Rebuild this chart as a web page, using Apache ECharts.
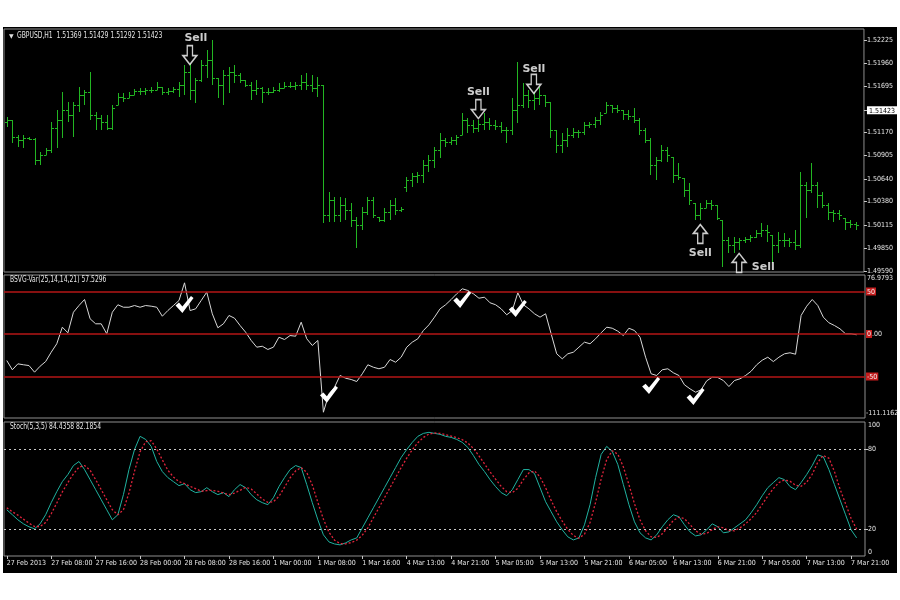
<!DOCTYPE html>
<html><head><meta charset="utf-8">
<script src="https://cdn.jsdelivr.net/npm/echarts@6/dist/echarts.min.js"></script>
<style>html,body{margin:0;padding:0;background:#fff;}#c{width:900px;height:600px;}</style>
</head><body><div id="c"></div>
<script>
const FONT = "'Liberation Sans Narrow','DejaVu Sans Condensed','Liberation Sans',sans-serif";

// hourly categories (gap between 1 Mar 23:00 and 4 Mar 13:00)
const dayBlocks = [['27 Feb',0,24],['28 Feb',0,24],['1 Mar',0,24],['4 Mar',13,24],['5 Mar',0,24],['6 Mar',0,24],['7 Mar',0,24]];
const categories = [];
dayBlocks.forEach(function(b){ for (let h=b[1]; h<b[2]; h++) categories.push(b[0]+' '+String(h).padStart(2,'0')+':00'); });

const priceOpen = [1.51289,1.51312,1.51117,1.51083,1.51106,1.51095,1.50855,1.50912,1.50969,1.51220,
1.51312,1.51426,1.51369,1.51483,1.51597,1.51631,1.51369,1.51334,1.51289,1.51220,
1.51483,1.51574,1.51563,1.51597,1.51643,1.51643,1.51654,1.51654,1.51688,1.51631,
1.51643,1.51666,1.51711,1.51860,1.51654,1.51768,1.51940,1.51997,1.51791,1.51711,
1.51825,1.51860,1.51825,1.51768,1.51711,1.51654,1.51677,1.51631,1.51631,1.51654,
1.51677,1.51700,1.51700,1.51711,1.51746,1.51711,1.51677,1.51711,1.50227,1.50398,
1.50227,1.50341,1.50284,1.50170,1.50112,1.50261,1.50398,1.50204,1.50170,1.50261,
1.50341,1.50284,1.50546,1.50626,1.50672,1.50683,1.50798,1.50855,1.50969,1.51083,
1.51060,1.51083,1.51140,1.51312,1.51254,1.51220,1.51266,1.51289,1.51254,1.51243,
1.51197,1.51197,1.51426,1.51483,1.51597,1.51540,1.51563,1.51597,1.51517,1.51197,
1.51026,1.51083,1.51140,1.51175,1.51175,1.51254,1.51266,1.51312,1.51392,1.51483,
1.51449,1.51426,1.51380,1.51357,1.51312,1.51197,1.51083,1.50798,1.50855,1.50969,
1.50889,1.50683,1.50649,1.50512,1.50364,1.50227,1.50307,1.50364,1.50341,1.50170,
1.49941,1.49884,1.49918,1.49941,1.49953,1.49975,1.50021,1.50055,1.49998,1.49884,
1.49941,1.49941,1.49918,1.49884,1.50569,1.50512,1.50569,1.50455,1.50341,1.50261,
1.50250,1.50192,1.50147,1.50124];

const priceHigh = [1.51346,1.51312,1.51140,1.51140,1.51117,1.51106,1.50946,1.50992,1.51289,1.51426,
1.51631,1.51517,1.51517,1.51688,1.51654,1.51860,1.51403,1.51369,1.51369,1.51483,
1.51620,1.51620,1.51631,1.51666,1.51677,1.51677,1.51688,1.51746,1.51688,1.51677,
1.51688,1.51746,1.51940,1.51963,1.51791,1.51997,1.52111,1.52225,1.51791,1.51883,
1.51917,1.51940,1.51848,1.51768,1.51746,1.51768,1.51688,1.51677,1.51688,1.51734,
1.51746,1.51746,1.51746,1.51825,1.51848,1.51825,1.51803,1.51711,1.50489,1.50432,
1.50432,1.50421,1.50364,1.50204,1.50318,1.50432,1.50432,1.50204,1.50307,1.50398,
1.50421,1.50318,1.50661,1.50706,1.50718,1.50855,1.50912,1.51003,1.51163,1.51106,
1.51117,1.51140,1.51392,1.51334,1.51312,1.51312,1.51392,1.51334,1.51312,1.51289,
1.51232,1.51563,1.51974,1.51734,1.51654,1.51631,1.51688,1.51597,1.51517,1.51197,
1.51163,1.51220,1.51220,1.51197,1.51289,1.51289,1.51346,1.51403,1.51517,1.51483,
1.51483,1.51426,1.51426,1.51449,1.51334,1.51220,1.51106,1.50889,1.51026,1.51003,
1.50889,1.50821,1.50649,1.50592,1.50364,1.50364,1.50398,1.50398,1.50341,1.50170,
1.49975,1.49975,1.49964,1.49975,1.49998,1.50055,1.50135,1.50112,1.49998,1.50033,
1.50021,1.49964,1.50055,1.50718,1.50604,1.50821,1.50604,1.50489,1.50364,1.50284,
1.50284,1.50192,1.50170,1.50147];

const priceLow = [1.51232,1.51049,1.51003,1.50992,1.51083,1.50798,1.50798,1.50912,1.50935,1.50992,
1.51106,1.51289,1.51117,1.51403,1.51483,1.51312,1.51197,1.51197,1.51197,1.51197,
1.51483,1.51517,1.51563,1.51597,1.51597,1.51597,1.51620,1.51654,1.51597,1.51597,
1.51620,1.51574,1.51597,1.51540,1.51506,1.51746,1.51791,1.51711,1.51563,1.51483,
1.51620,1.51734,1.51734,1.51688,1.51540,1.51597,1.51506,1.51597,1.51620,1.51631,
1.51677,1.51677,1.51654,1.51654,1.51654,1.51631,1.51574,1.50135,1.50147,1.50147,
1.50147,1.50170,1.50090,1.49850,1.50055,1.50227,1.50192,1.50147,1.50147,1.50170,
1.50227,1.50261,1.50489,1.50546,1.50592,1.50592,1.50718,1.50763,1.50878,1.51003,
1.51026,1.51026,1.51140,1.51163,1.51163,1.51175,1.51197,1.51197,1.51197,1.51163,
1.51049,1.51140,1.51277,1.51449,1.51449,1.51426,1.51483,1.51460,1.51106,1.50935,
1.50935,1.51003,1.51106,1.51106,1.51140,1.51220,1.51220,1.51254,1.51392,1.51392,
1.51392,1.51312,1.51312,1.51277,1.51140,1.51049,1.50683,1.50626,1.50832,1.50832,
1.50592,1.50626,1.50432,1.50341,1.50170,1.50170,1.50307,1.50284,1.50170,1.49633,
1.49793,1.49793,1.49827,1.49907,1.49918,1.49964,1.49975,1.49918,1.49679,1.49793,
1.49861,1.49861,1.49827,1.49850,1.50192,1.50478,1.50307,1.50307,1.50170,1.50147,
1.50170,1.50055,1.50078,1.50055];

const priceClose = [1.51312,1.51117,1.51083,1.51106,1.51095,1.50855,1.50912,1.50969,1.51220,1.51312,
1.51426,1.51369,1.51483,1.51597,1.51631,1.51369,1.51334,1.51289,1.51220,1.51449,
1.51574,1.51563,1.51597,1.51643,1.51643,1.51654,1.51654,1.51688,1.51631,1.51643,
1.51666,1.51711,1.51860,1.51654,1.51768,1.51940,1.51997,1.51791,1.51711,1.51825,
1.51860,1.51825,1.51768,1.51711,1.51654,1.51677,1.51631,1.51631,1.51654,1.51677,
1.51700,1.51700,1.51711,1.51746,1.51711,1.51677,1.51711,1.50227,1.50398,1.50227,
1.50341,1.50284,1.50170,1.50112,1.50261,1.50398,1.50227,1.50170,1.50261,1.50341,
1.50284,1.50295,1.50626,1.50672,1.50683,1.50798,1.50855,1.50969,1.51083,1.51060,
1.51083,1.51117,1.51312,1.51254,1.51220,1.51266,1.51289,1.51254,1.51243,1.51197,
1.51197,1.51426,1.51483,1.51597,1.51540,1.51563,1.51597,1.51517,1.51197,1.51026,
1.51083,1.51140,1.51175,1.51175,1.51254,1.51266,1.51312,1.51369,1.51483,1.51449,
1.51426,1.51380,1.51357,1.51312,1.51197,1.51083,1.50798,1.50855,1.50969,1.50912,
1.50683,1.50661,1.50512,1.50398,1.50227,1.50307,1.50364,1.50341,1.50192,1.49941,
1.49884,1.49918,1.49941,1.49953,1.49975,1.50021,1.50055,1.50033,1.49884,1.49941,
1.49941,1.49918,1.49884,1.50569,1.50512,1.50569,1.50455,1.50341,1.50261,1.50250,
1.50227,1.50147,1.50124,1.50112];

const bsvg = [-31.2,-42.1,-35.1,-36.2,-37.1,-44.9,-37.9,-32.4,-21.4,-11.5,
8.0,1.4,25.6,33.5,40.6,17.9,12.0,12.0,0.2,25.6,
34.4,31.5,31.5,33.5,31.5,33.5,32.7,31.5,20.9,27.6,
33.5,39.4,60.2,27.6,29.6,39.4,49.2,23.8,7.3,12.0,
21.8,18.6,10.0,2.1,-7.6,-15.5,-14.4,-18.2,-15.5,-3.8,
-6.5,-1.8,-2.6,13.9,-5.6,-13.5,-7.6,-92.0,-70.4,-62.6,
-48.8,-52.0,-53.5,-55.9,-46.8,-36.2,-39.1,-40.9,-39.1,-30.0,
-33.2,-27.3,-15.5,-9.6,-5.6,4.1,10.8,19.8,29.6,34.4,
40.6,47.3,53.2,51.2,47.3,42.1,43.3,36.7,34.4,29.6,
22.6,27.6,48.5,34.4,29.6,23.8,19.8,23.8,0.2,-23.3,
-29.2,-23.3,-21.4,-15.5,-9.6,-11.5,-5.6,1.4,8.0,6.8,
3.3,-1.8,6.8,4.1,-3.8,-27.3,-46.8,-48.8,-42.1,-40.9,
-45.6,-48.8,-59.8,-64.5,-68.5,-65.6,-55.1,-50.8,-51.2,-54.7,
-61.8,-54.7,-52.7,-48.8,-43.8,-36.2,-30.8,-27.3,-32.4,-27.3,
-23.3,-22.1,-23.8,21.8,32.7,40.6,33.5,19.8,13.2,10.0,
6.1,0.2,0.2,-0.9];

const stochMain = [34.5,30.8,27,24,21.8,20.3,24,30.8,39.8,48,
55.5,60.8,67.5,70.5,64.5,57,49.5,42,34.5,27,
30.8,45.8,64.5,79.5,89.3,87,81.8,70.5,63,58.5,
55.5,52.5,54,49.5,47.3,48,51,48,45.8,47.3,
44.3,49.5,53.3,51,45.8,42,39.8,38.3,43.5,51.8,
58.5,64.5,67.5,66,53.3,39.8,27,15.8,10.5,9,
8.3,9.8,12,13.5,21,28.5,36,43.5,51,58.5,
66,73.5,79.5,84.8,89.3,91.5,92.3,91.5,90.8,89.3,
88.5,87,84.8,81,75,68.3,63,57,51.8,47.3,
45,49.5,57,64.5,64.5,61.5,51,40.5,33,25.5,
19.5,14.3,12,13.5,23.3,38.3,58.5,75.8,81.8,78,
68.3,53.3,38.3,25.5,17.3,13.5,12,15.8,21.8,27,
30.8,29.3,23.3,18,15,15.8,19.5,24,21.8,17.3,
18,21,24,27,32.3,38.3,45,51,54.8,58.5,
57,51.8,49.5,54.8,60.8,67.5,75.5,74,64.5,53.3,
42,30.8,19.5,13.5];

const stochSignal = [36,33,30.5,27.5,24.5,22,22,25,31.5,39.5,
47.8,54.8,61.3,66.3,67.5,64,57,49.5,42,34.5,
30.8,34.5,47,63.3,77.8,85.3,86,79.8,71.8,64,
59,55.5,54,52,50.3,48.3,48.8,49,48.3,47,
45.8,47,49,51.3,50,46.3,42.5,40,40.5,44.5,
51.3,58.3,63.5,66,62.3,53,40,27.5,17.8,11.8,
9.3,9,10,11.8,15.5,21,28.5,36,43.5,51,
58.5,66,73,79.3,84.5,88.5,91,91.8,91.5,90.5,
89.5,88.3,86.8,84.3,80.3,74.8,68.8,62.8,57.3,52,
48,47.3,50.5,57,62,63.5,59,51,41.5,33,
26,19.8,15.3,13.3,16.3,25,40,57.5,72,78.5,
76,66.5,53.3,39,27,18.8,14.3,13.8,16.5,21.5,
26.5,29,27.8,23.5,18.8,16.3,16.8,19.8,21.8,21,
19,18.8,21,24,27.8,32.5,38.5,44.8,50.3,54.8,
56.8,55.8,52.8,52,55,61,70,75,73,63,
50,39,28,20];

const priceTicks = [1.52225,1.51960,1.51695,1.51423,1.51170,1.50905,1.50640,1.50380,1.50115,1.49850,1.49590];
const currentPrice = 1.51423;
const bsvgLevels = [50, 0, -50];
const stochLevels = [80, 20];

// signal markers: [bar index, value]
const sellDown = [[33, 1.52054], [85, 1.51437], [95, 1.51723]];
const sellUp = [[125, 1.50010], [132, 1.49679]];
const checks = [[32, 34.7], [58, -71], [82, 40.6], [92, 30], [116, -60.6], [124, -73.5]];

const BAR_COLOR = '#22b522';
const TXT = '#e6e6e6';
const FS = 7;

const ohlc = priceOpen.map(function(o,i){ return [i, o, priceHigh[i], priceLow[i], priceClose[i]]; });

function renderBar(params, api) {
  const i = api.value(0);
  const pO = api.coord([i, api.value(1)]);
  const pH = api.coord([i, api.value(2)]);
  const pL = api.coord([i, api.value(3)]);
  const pC = api.coord([i, api.value(4)]);
  const x = Math.round(pO[0]) + 0.5;
  const yH = Math.round(pH[1]), yL = Math.max(Math.round(pL[1]), yH + 1);
  const yO = Math.round(pO[1]) + 0.5, yC = Math.round(pC[1]) + 0.5;
  const st = {stroke: BAR_COLOR, lineWidth: 1};
  return {type: 'group', children: [
    {type: 'line', shape: {x1: x, y1: yH, x2: x, y2: yL}, style: st},
    {type: 'line', shape: {x1: x - 2.5, y1: yO, x2: x, y2: yO}, style: st},
    {type: 'line', shape: {x1: x, y1: yC, x2: x + 2.5, y2: yC}, style: st}
  ]};
}

const DOWN_ARROW = 'path://M5,0 L11,0 L11,10 L16,10 L8,19 L0,10 L5,10 Z';
const UP_ARROW = 'path://M5,19 L11,19 L11,9 L16,9 L8,0 L0,9 L5,9 Z';
const CHECK = 'path://M0,10 L4,7 L8,11 L18,0 L21,2 L8,18 Z';

const sellLabel = {show: true, formatter: 'Sell', color: '#fff', fontWeight: 'bold', fontSize: 11, fontFamily: 'DejaVu Sans'};

const hiddenX = function(g){ return {type: 'category', gridIndex: g, data: categories, boundaryGap: true,
  axisLine: {show: false}, axisTick: {show: false}, axisLabel: {show: false}, splitLine: {show: false}}; };

const gridStyle = {show: true, borderColor: '#8e8e8e', borderWidth: 1, left: 4, right: 35};

function headText(x, y, s) {
  return {type: 'text', x: x, y: y, scaleX: 0.84, style: {text: s, fill: TXT, font: '8px ' + FONT}};
}

const option = {
  animation: false,
  backgroundColor: '#ffffff',
  graphic: [
    {type: 'rect', z: -100, silent: true, shape: {x: 3, y: 27, width: 894, height: 546}, style: {fill: '#000'}},
    {type: 'text', x: 9, y: 33, style: {text: '▼', fill: '#ddd', font: '6px DejaVu Sans'}},
    headText(17, 32, 'GBPUSD,H1  1.51369 1.51429 1.51292 1.51423'),
    headText(10, 276, 'BSVG-Var(25,14,14,21) 57.5296'),
    headText(10, 423, 'Stoch(5,3,5) 84.4358 82.1854'),
    {type: 'text', x: 867, y: 275, style: {text: '76.9793', fill: TXT, font: FS + 'px ' + FONT}},
    {type: 'text', x: 866, y: 410, style: {text: '-111.1162', fill: TXT, font: FS + 'px ' + FONT}},
    {type: 'text', x: 868, y: 422, style: {text: '100', fill: TXT, font: FS + 'px ' + FONT}},
    {type: 'text', x: 868, y: 549, style: {text: '0', fill: TXT, font: FS + 'px ' + FONT}}
  ],
  grid: [
    Object.assign({top: 29, height: 243}, gridStyle),
    Object.assign({top: 275, height: 143}, gridStyle),
    Object.assign({top: 422, height: 134}, gridStyle)
  ],
  xAxis: [
    hiddenX(0), hiddenX(1),
    {type: 'category', gridIndex: 2, data: categories, boundaryGap: true,
      axisLine: {show: false},
      axisTick: {show: true, alignWithLabel: true, length: 3, interval: function(i){ return i % 8 === 0; }, lineStyle: {color: '#c8c8c8'}},
      axisLabel: {show: true, showMinLabel: true, interval: function(i){ return i % 8 === 0; }, align: 'left', margin: 4,
        color: TXT, fontSize: FS, fontFamily: FONT,
        formatter: function(v, idx){ return idx === 0 ? '27 Feb 2013' : v; }},
      splitLine: {show: false}}
  ],
  yAxis: [
    {type: 'value', gridIndex: 0, position: 'right', min: 1.49576, max: 1.52351, scale: true,
      splitLine: {show: false}, axisLine: {show: false},
      axisTick: {show: true, length: 3, customValues: priceTicks, lineStyle: {color: '#c8c8c8'}},
      axisLabel: {customValues: priceTicks, margin: 3, color: TXT, fontSize: FS, fontFamily: FONT,
        formatter: function(v){ const s = v.toFixed(5); return Math.abs(v - currentPrice) < 1e-7 ? '{hl|' + s + '}' : s; },
        rich: {hl: {backgroundColor: '#ffffff', color: '#000', fontSize: FS, fontFamily: FONT, padding: [1, 2, 0, 2]}}}},
    {type: 'value', gridIndex: 1, position: 'right', min: -98.8, max: 69.4,
      splitLine: {show: false}, axisLine: {show: false}, axisTick: {show: false},
      axisLabel: {customValues: bsvgLevels, margin: 1, color: TXT, fontSize: FS, fontFamily: FONT,
        formatter: function(v){ return v === 0 ? '{r|0}.00' : '{r|' + v + '}'; },
        rich: {r: {backgroundColor: '#c41c1c', color: '#f4f4f4', fontSize: FS, fontFamily: FONT, padding: [1, 1, 0, 1]}}}},
    {type: 'value', gridIndex: 2, position: 'right', min: 0, max: 100,
      splitLine: {show: false}, axisLine: {show: false},
      axisTick: {show: true, length: 3, customValues: stochLevels, lineStyle: {color: '#c8c8c8'}},
      axisLabel: {customValues: stochLevels, margin: 3, color: TXT, fontSize: FS, fontFamily: FONT}}
  ],
  series: [
    {type: 'custom', name: 'GBPUSD', xAxisIndex: 0, yAxisIndex: 0, data: ohlc,
      encode: {x: 0, y: [1, 2, 3, 4]}, renderItem: renderBar, silent: true},
    {type: 'scatter', xAxisIndex: 0, yAxisIndex: 0, symbol: DOWN_ARROW, symbolSize: [14, 19], z: 5,
      itemStyle: {color: '#000', borderColor: '#fff', borderWidth: 1.5},
      label: Object.assign({position: 'top', distance: 1}, sellLabel),
      data: [
        {value: sellDown[0], label: {offset: [6, 0]}},
        {value: sellDown[1]},
        {value: sellDown[2], label: {offset: [0, 2]}}
      ]},
    {type: 'scatter', xAxisIndex: 0, yAxisIndex: 0, symbol: UP_ARROW, symbolSize: [14, 19], z: 5,
      itemStyle: {color: '#000', borderColor: '#fff', borderWidth: 1.5},
      label: sellLabel,
      data: [
        {value: sellUp[0], label: {position: 'bottom', distance: 3}},
        {value: sellUp[1], label: {position: 'right', distance: 5, offset: [0, 4]}}
      ]},
    {type: 'line', name: 'BSVG', xAxisIndex: 1, yAxisIndex: 1, data: bsvg, symbol: 'none',
      lineStyle: {color: '#d8d8d8', width: 1}, z: 3,
      markLine: {silent: true, symbol: ['none', 'none'], label: {show: false},
        lineStyle: {color: '#b41616', width: 1.5, type: 'solid'},
        data: bsvgLevels.map(function(v){ return {yAxis: v}; })}},
    {type: 'scatter', xAxisIndex: 1, yAxisIndex: 1, symbol: CHECK, symbolSize: [18, 17], z: 6,
      itemStyle: {color: '#ffffff', opacity: 1}, emphasis: {disabled: true}, data: checks},
    {type: 'line', name: 'Main', xAxisIndex: 2, yAxisIndex: 2, data: stochMain, symbol: 'none',
      lineStyle: {color: '#20b2a0', width: 1}, z: 3,
      markLine: {silent: true, symbol: ['none', 'none'], label: {show: false},
        lineStyle: {color: '#c8c8c8', width: 1, type: [2, 3]},
        data: stochLevels.map(function(v){ return {yAxis: v}; })}},
    {type: 'line', name: 'Signal', xAxisIndex: 2, yAxisIndex: 2, data: stochSignal, symbol: 'none',
      lineStyle: {color: '#e0243c', width: 1.3, type: [2, 2]}, z: 4}
  ]
};

const chart = echarts.init(document.getElementById('c'), null, {renderer: 'canvas'});
chart.setOption(option);
</script>
</body></html>
